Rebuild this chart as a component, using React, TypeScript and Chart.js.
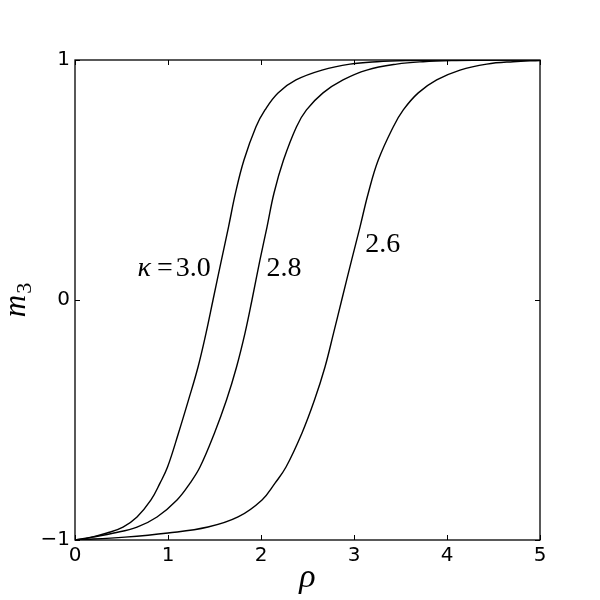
import React, { useEffect, useRef } from "react";
import { Chart, registerables } from "chart.js";

Chart.register(...registerables);

// kappa = 3.0
const rho30 = [0, 0.14, 0.344, 0.516, 0.667, 0.817, 0.914, 0.995, 1.113, 1.22, 1.323, 1.409, 1.484, 1.575, 1.651, 1.726, 1.817, 1.946, 2.043, 2.183, 2.376, 2.656, 2.957, 3.247, 3.6, 4.0, 5.0];
const m30 = [-1, -0.992, -0.971, -0.946, -0.904, -0.833, -0.763, -0.696, -0.554, -0.417, -0.279, -0.138, 0, 0.167, 0.305, 0.446, 0.583, 0.722, 0.792, 0.863, 0.917, 0.958, 0.983, 0.993, 0.998, 1.0, 1.0];

// kappa = 2.8
const rho28 = [0, 0.183, 0.419, 0.667, 0.882, 1.097, 1.237, 1.344, 1.5, 1.629, 1.737, 1.828, 1.903, 1.989, 2.065, 2.14, 2.242, 2.382, 2.489, 2.667, 2.882, 3.137, 3.459, 3.742, 4.1, 4.5, 5.0];
const m28 = [-1, -0.988, -0.971, -0.946, -0.904, -0.833, -0.763, -0.696, -0.554, -0.417, -0.279, -0.138, 0, 0.167, 0.305, 0.446, 0.583, 0.722, 0.792, 0.863, 0.917, 0.958, 0.983, 0.993, 0.998, 1.0, 1.0];

// kappa = 2.6
const rho26 = [0, 0.538, 1.0, 1.43, 1.753, 2.011, 2.151, 2.269, 2.441, 2.575, 2.688, 2.78, 2.868, 2.975, 3.065, 3.154, 3.261, 3.423, 3.53, 3.691, 3.889, 4.14, 4.427, 4.71, 5.0];
const m26 = [-1, -0.988, -0.971, -0.946, -0.904, -0.833, -0.763, -0.696, -0.554, -0.417, -0.279, -0.138, 0, 0.167, 0.305, 0.446, 0.583, 0.722, 0.792, 0.863, 0.917, 0.958, 0.983, 0.993, 0.998];

// curve annotations (data coordinates)
const labelTexts = ["3.0", "2.8", "2.6"];
const labelRho = [1.46, 2.06, 3.12];
const labelM = [0.1, 0.1, 0.2];

const xTitle = "ρ";
const yTitleMain = "m";
const yTitleSub = "3";

const toPts = (xs: number[], ys: number[]) => xs.map((x, i) => ({ x, y: ys[i] }));

const SERIF = '"Liberation Serif", "DejaVu Serif", serif';
const SANS = '"DejaVu Sans", sans-serif';

const overlay = {
  id: "overlay",
  afterDraw(chart: any) {
    const { ctx, chartArea: a, scales } = chart;
    const xs = scales.x;
    const ys = scales.y;
    ctx.save();
    ctx.strokeStyle = "#000";
    ctx.fillStyle = "#000";
    ctx.lineWidth = 1.3;
    // frame
    ctx.strokeRect(a.left, a.top, a.right - a.left, a.bottom - a.top);
    // inward ticks on all four sides
    const tl = 5;
    ctx.lineWidth = 1;
    xs.ticks.forEach((t: any) => {
      const px = Math.round(xs.getPixelForValue(t.value)) + 0.5;
      ctx.beginPath();
      ctx.moveTo(px, a.bottom);
      ctx.lineTo(px, a.bottom - tl);
      ctx.moveTo(px, a.top);
      ctx.lineTo(px, a.top + tl);
      ctx.stroke();
    });
    ys.ticks.forEach((t: any) => {
      const py = Math.round(ys.getPixelForValue(t.value)) + 0.5;
      ctx.beginPath();
      ctx.moveTo(a.left, py);
      ctx.lineTo(a.left + tl, py);
      ctx.moveTo(a.right, py);
      ctx.lineTo(a.right - tl, py);
      ctx.stroke();
    });

    // x title
    ctx.font = `italic 34px ${SERIF}`;
    ctx.textAlign = "center";
    ctx.textBaseline = "alphabetic";
    ctx.fillText(xTitle, (a.left + a.right) / 2, 587);

    // y title (rotated) m_3
    ctx.save();
    ctx.translate(25, (a.top + a.bottom) / 2);
    ctx.rotate(-Math.PI / 2);
    ctx.font = `italic 31px ${SERIF}`;
    const wm = ctx.measureText(yTitleMain).width;
    ctx.font = `22px ${SERIF}`;
    const ws = ctx.measureText(yTitleSub).width;
    const start = -(wm + ws + 1) / 2;
    ctx.textAlign = "left";
    ctx.font = `italic 31px ${SERIF}`;
    ctx.fillText(yTitleMain, start, 0);
    ctx.font = `22px ${SERIF}`;
    ctx.fillText(yTitleSub, start + wm + 1, 6);
    ctx.restore();

    // curve labels
    ctx.textAlign = "left";
    ctx.textBaseline = "alphabetic";
    labelTexts.forEach((txt, i) => {
      const px = xs.getPixelForValue(labelRho[i]);
      const py = ys.getPixelForValue(labelM[i]);
      if (i === 0) {
        ctx.font = `28px ${SERIF}`;
        const wNum = ctx.measureText(txt).width;
        const wEq = ctx.measureText("=").width;
        ctx.font = `italic 28px ${SERIF}`;
        const wK = ctx.measureText("κ").width;
        const gap1 = 6;
        const gap2 = 3;
        let x = px - (wK + gap1 + wEq + gap2 + wNum);
        ctx.fillText("κ", x, py);
        x += wK + gap1;
        ctx.font = `28px ${SERIF}`;
        ctx.fillText("=", x, py);
        x += wEq + gap2;
        ctx.fillText(txt, x, py);
      } else {
        ctx.font = `28px ${SERIF}`;
        ctx.fillText(txt, px, py);
      }
    });
    ctx.restore();
  },
};

export default function App() {
  const ref = useRef<HTMLCanvasElement>(null);
  useEffect(() => {
    if (!ref.current) return;
    const lineStyle = {
      showLine: true,
      borderColor: "#000",
      backgroundColor: "#000",
      borderWidth: 1.4,
      pointRadius: 0,
      tension: 0.4,
      fill: false,
    };
    const chart = new Chart(ref.current, {
      type: "scatter",
      data: {
        datasets: [
          { label: "κ=3.0", data: toPts(rho30, m30), ...lineStyle },
          { label: "κ=2.8", data: toPts(rho28, m28), ...lineStyle },
          { label: "κ=2.6", data: toPts(rho26, m26), ...lineStyle },
        ],
      },
      options: {
        animation: false,
        responsive: false,
        layout: { padding: { top: 60, right: 60, left: 0, bottom: 0 } },
        plugins: { legend: { display: false }, tooltip: { enabled: false } },
        scales: {
          x: {
            type: "linear",
            min: 0,
            max: 5,
            ticks: {
              stepSize: 1,
              color: "#000",
              font: { family: SANS, size: 20 },
              padding: 4,
              maxRotation: 0,
            },
            grid: { display: false, drawTicks: false },
            border: { display: false },
            afterFit: (s: any) => {
              s.height = 60;
            },
          },
          y: {
            type: "linear",
            min: -1,
            max: 1,
            ticks: {
              stepSize: 1,
              color: "#000",
              font: { family: SANS, size: 20 },
              padding: 5,
              callback: (v: any) => (Number(v) < 0 ? "\u2212" + Math.abs(Number(v)) : String(v)),
            },
            grid: { display: false, drawTicks: false },
            border: { display: false },
            afterFit: (s: any) => {
              s.width = 75;
            },
          },
        },
      },
      plugins: [overlay],
    });
    return () => chart.destroy();
  }, []);
  return (
    <div style={{ position: "absolute", left: 0, top: 0, width: 600, height: 600, background: "#fff" }}>
      <canvas ref={ref} width={600} height={600} />
    </div>
  );
}
